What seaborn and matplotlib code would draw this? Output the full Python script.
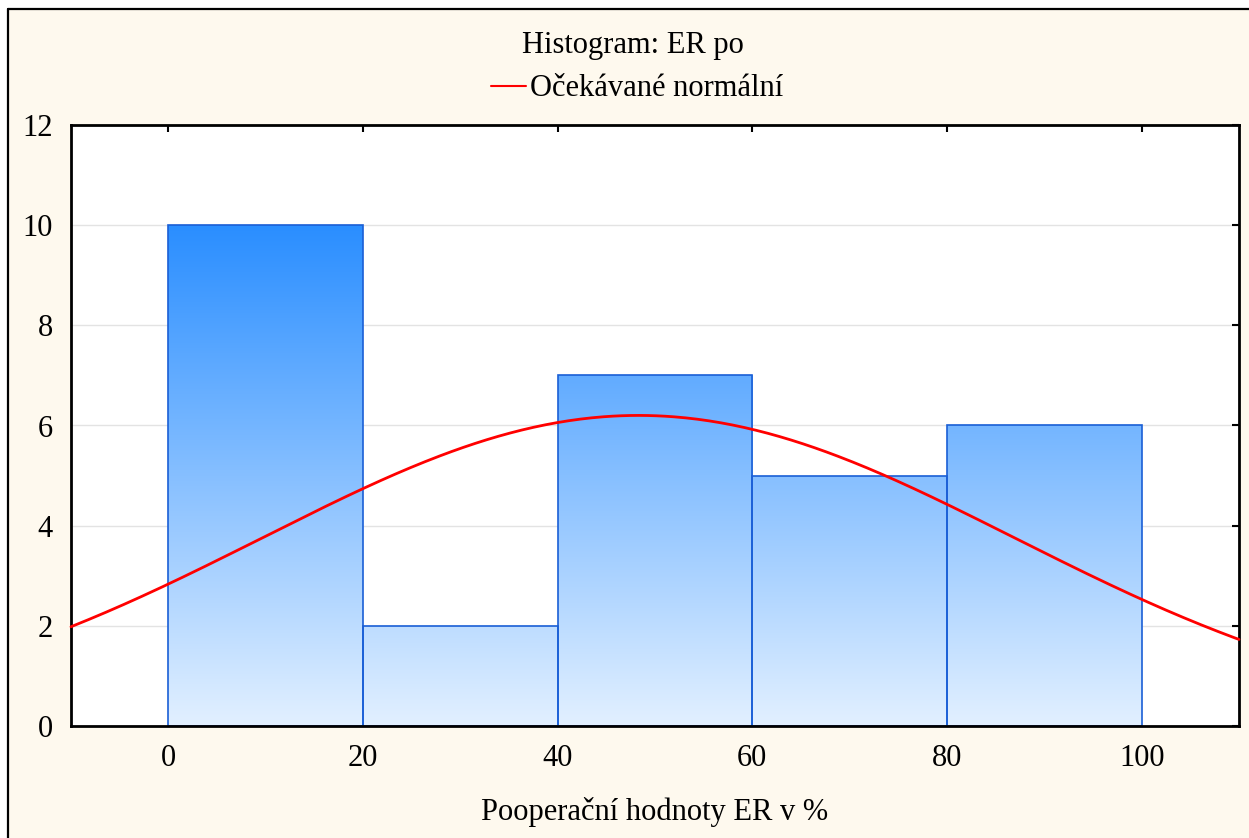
import numpy as np
import pandas as pd
import matplotlib
matplotlib.use("Agg")
import matplotlib.pyplot as plt
from matplotlib.colors import LinearSegmentedColormap
from matplotlib.lines import Line2D
from matplotlib.patches import Rectangle
import seaborn as sns

# ---- data ----
bin_edges = [0, 20, 40, 60, 80, 100]
counts = [10, 2, 7, 5, 6]
x_ticks = [0, 20, 40, 60, 80, 100]
y_ticks = [0, 2, 4, 6, 8, 10, 12]
n_total = 30
fit_mean = 48.3
fit_sd = 38.6
title_text = "Histogram: ER po"
legend_text = "Očekávané normální"
xlabel_text = "Pooperační hodnoty ER v %"

sns.set_theme(style="white")
plt.rcParams['font.family'] = ['Liberation Serif', 'DejaVu Serif']
plt.rcParams['text.color'] = 'black'
plt.rcParams['axes.labelcolor'] = 'black'
plt.rcParams['xtick.color'] = 'black'
plt.rcParams['ytick.color'] = 'black'

FS = 22
W, H, DPI = 1249, 838, 100
fig = plt.figure(figsize=(W / DPI, H / DPI), dpi=DPI, facecolor="white")

# cream background with frame (left and top border visible)
bx, by = 8 / W, 1 - 9 / H
fig.patches.append(Rectangle((bx, -0.1), 1.2, by + 0.1, transform=fig.transFigure,
                             facecolor="#FEF9EE", edgecolor="none", zorder=-10))
fig.lines.append(Line2D([bx, bx], [-0.1, by], transform=fig.transFigure, color="black", lw=1.6))
fig.lines.append(Line2D([bx, 1.1], [by, by], transform=fig.transFigure, color="black", lw=1.6))

ax = fig.add_axes([71 / W, 1 - 726 / H, (1239 - 71) / W, (726 - 125) / H])
ax.set_facecolor("white")

centers = [(a + b) / 2 for a, b in zip(bin_edges[:-1], bin_edges[1:])]
df = pd.DataFrame({"x": centers, "w": counts})
sns.histplot(data=df, x="x", weights="w", bins=bin_edges, ax=ax,
             stat="count", element="bars", fill=True,
             facecolor="none", edgecolor="#1A5FD6", linewidth=1.2, zorder=2)

ax.set_xlim(-10, 110)
ax.set_ylim(0, 12)

# gradient fill clipped to bars
cmap = LinearSegmentedColormap.from_list("g", ["#E2F0FF", "#2A8EFF"])
grad = np.linspace(0, 1, 256).reshape(-1, 1)
ymax = max(counts)
for p in ax.patches:
    im = ax.imshow(grad, cmap=cmap, aspect="auto", origin="lower",
                   extent=[-10, 110, 0, ymax], zorder=1.5, interpolation="bilinear")
    im.set_clip_path(p)
ax.set_xlim(-10, 110)
ax.set_ylim(0, 12)

# expected normal curve
xs = np.linspace(-10, 110, 400)
binw = bin_edges[1] - bin_edges[0]
ys = n_total * binw / (fit_sd * np.sqrt(2 * np.pi)) * np.exp(-0.5 * ((xs - fit_mean) / fit_sd) ** 2)
sns.lineplot(x=xs, y=ys, ax=ax, color="#FF0000", lw=2.0, zorder=4, clip_on=False)

# grid
for yv in y_ticks[1:-1]:
    ax.axhline(yv, color="#E3E3E3", lw=1.0, zorder=0.5)

ax.set_xticks(x_ticks)
ax.set_yticks(y_ticks)
ax.tick_params(axis="both", direction="in", length=5, width=1.5, colors="black",
               labelsize=FS, top=True, right=True, labeltop=False, labelright=False)
ax.tick_params(axis="x", pad=13)
ax.tick_params(axis="y", pad=13)
for s in ax.spines.values():
    s.set_visible(True)
    s.set_color("black")
    s.set_linewidth(2)

ax.set_xlabel(xlabel_text, fontsize=FS, va="center", color="black")
ax.xaxis.set_label_coords(0.5, -(812 - 726) / (726 - 125))
ax.set_ylabel("")

fig.text(633 / W, 1 - 46 / H, title_text, ha="center", va="center", fontsize=FS, color="black")
handle = Line2D([0], [0], color="#FF0000", lw=1.5)
fig.legend([handle], [legend_text], loc="center", bbox_to_anchor=(637 / W, 1 - 89 / H),
           frameon=False, fontsize=FS, handlelength=1.15, handletextpad=0.15,
           labelcolor="black")

fig.savefig("out.png", dpi=DPI, facecolor=fig.get_facecolor())
